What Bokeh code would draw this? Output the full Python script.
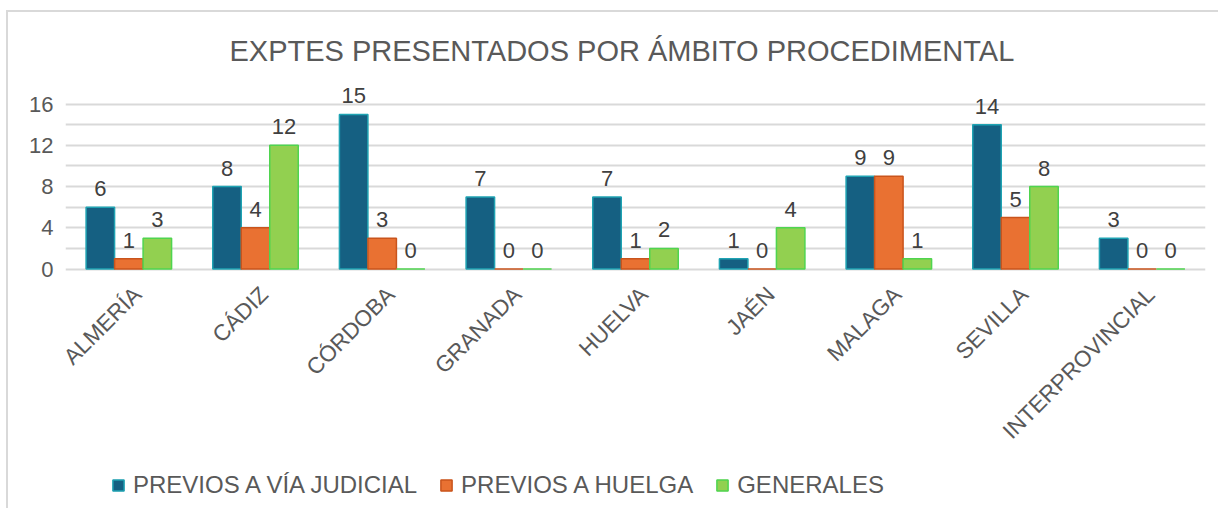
from math import pi
from bokeh.plotting import figure
from bokeh.models import (ColumnDataSource, FactorRange, Range1d, FixedTicker,
                          LabelSet, Legend, LegendItem)
from bokeh.core.properties import value
from bokeh.transform import dodge
from bokeh.embed import file_html
from bokeh.resources import INLINE

categories = ["ALMERÍA", "CÁDIZ", "CÓRDOBA", "GRANADA", "HUELVA", "JAÉN",
              "MALAGA", "SEVILLA", "INTERPROVINCIAL"]
previos_via_judicial = [6, 8, 15, 7, 7, 1, 9, 14, 3]
previos_huelga = [1, 4, 3, 0, 1, 0, 9, 5, 0]
generales = [3, 12, 0, 0, 2, 4, 1, 8, 0]
series_names = ["PREVIOS A VÍA JUDICIAL", "PREVIOS A HUELGA", "GENERALES"]
y_ticks = [0, 4, 8, 12, 16]
grid_ticks = [0, 2, 4, 6, 8, 10, 12, 14, 16]
title_text = "EXPTES PRESENTADOS POR ÁMBITO PROCEDIMENTAL"

FONT = "Liberation Sans"
TXT = "#595959"

src = ColumnDataSource(dict(
    cat=categories,
    a=previos_via_judicial,
    b=previos_huelga,
    c=generales,
    la=[str(v) for v in previos_via_judicial],
    lb=[str(v) for v in previos_huelga],
    lc=[str(v) for v in generales],
    base=[0] * len(categories),
))

p = figure(frame_width=1140, frame_height=425,
           x_range=FactorRange(factors=categories, range_padding=0),
           y_range=Range1d(-23.22, 18),
           x_axis_location=None,
           output_backend="svg", toolbar_location=None,
           min_border_left=57, min_border_right=13,
           min_border_top=71, min_border_bottom=0)
p.styles = {"border-left": "2px solid #D9D9D9", "border-top": "2px solid #D9D9D9",
            "margin-left": "6px", "margin-top": "10px"}
p.title.text = title_text
p.title.align = "left"
p.title.offset = 164
p.title.text_font = FONT
p.title.text_font_size = "29px"
p.title.text_font_style = "normal"
p.title.text_color = TXT
p.title.standoff = 34

p.outline_line_color = None
p.background_fill_color = "white"
p.border_fill_color = "white"

fills = ["#156082", "#E97132", "#92D050"]
lines = ["#1FA3B3", "#C9541C", "#4FD44F"]
cols = ["a", "b", "c"]
lcols = ["la", "lb", "lc"]
offs = [-0.225, 0.0, 0.225]
W = 0.225

renderers = []
for col, lc, off, fc, ln in zip(cols, lcols, offs, fills, lines):
    r = p.vbar(x=dodge("cat", off, range=p.x_range), top=col, bottom=0,
               width=W, source=src, fill_color=fc, line_color=ln,
               line_width=1.5)
    renderers.append(r)
    labels = LabelSet(x=dodge("cat", off, range=p.x_range), y=col, text=lc,
                      source=src, text_align="center",
                      text_baseline="alphabetic", y_offset=11,
                      text_font=value(FONT), text_font_size=value("22px"),
                      text_color=value("#404040"))
    p.add_layout(labels)

# category labels (rotated 45°), positioned on the categorical scale
cat_labels = LabelSet(x="cat", y="base", text="cat", source=src,
                      angle=pi / 4, text_align="right",
                      text_baseline="alphabetic", x_offset=14, y_offset=-27,
                      text_font=value(FONT), text_font_size=value("22.5px"),
                      text_color=value(TXT))
p.add_layout(cat_labels)

p.ygrid.ticker = FixedTicker(ticks=grid_ticks)
p.ygrid.grid_line_color = "#D9D9D9"
p.ygrid.grid_line_width = 2
p.xgrid.grid_line_color = None

p.yaxis.ticker = FixedTicker(ticks=y_ticks)
p.yaxis.axis_line_color = None
p.yaxis.major_tick_line_color = None
p.yaxis.minor_tick_line_color = None
p.yaxis.major_label_text_font = FONT
p.yaxis.major_label_text_font_size = "22px"
p.yaxis.major_label_text_color = TXT
p.yaxis.major_label_standoff = 6

items = [LegendItem(label=n, renderers=[r]) for n, r in zip(series_names, renderers)]
legend = Legend(items=items, orientation="horizontal", location=(46, 9),
                label_text_font=FONT, label_text_font_size="24px",
                label_text_color=TXT, glyph_width=14, glyph_height=14,
                label_standoff=8, spacing=22, padding=0, margin=0,
                background_fill_alpha=0, border_line_color=None)
p.add_layout(legend, "center")

open("out.html", "w").write(file_html(p, INLINE))
